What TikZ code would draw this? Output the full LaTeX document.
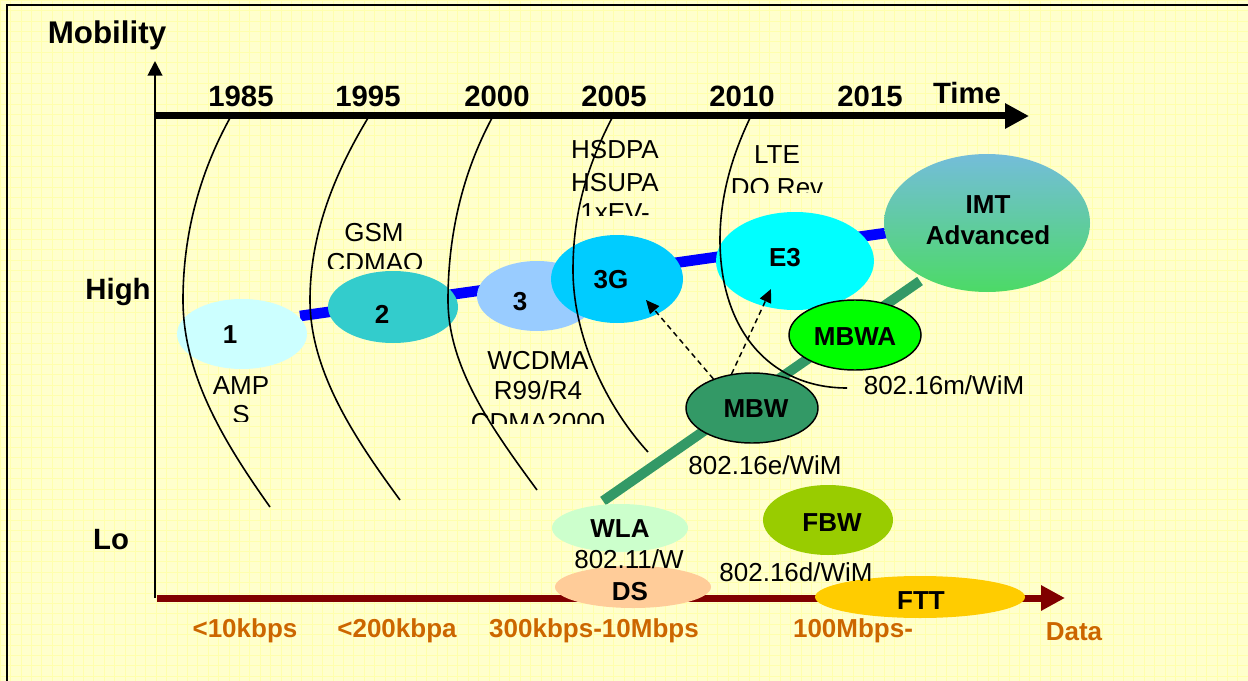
\documentclass[tikz,border=0pt]{standalone}
\usepackage{fontspec}
\setmainfont{Liberation Sans}
\usetikzlibrary{shapes.geometric,arrows.meta}
\definecolor{bgc}{HTML}{FFFFCC}
\definecolor{gridc}{HTML}{FFFFAD}
\definecolor{cA}{HTML}{CCFFFF}
\definecolor{cB}{HTML}{33CCCC}
\definecolor{cC}{HTML}{99CCFF}
\definecolor{cD}{HTML}{00CCFF}
\definecolor{cE}{HTML}{00FFFF}
\definecolor{imttop}{HTML}{74BDDA}
\definecolor{imtbot}{HTML}{4CDA66}
\definecolor{cMBWA}{HTML}{00FF00}
\definecolor{cMBW}{HTML}{339966}
\definecolor{cWLA}{HTML}{CCFFCC}
\definecolor{cFBW}{HTML}{99CC00}
\definecolor{cDS}{HTML}{FFCC99}
\definecolor{cFTT}{HTML}{FFCC00}
\definecolor{rateorange}{HTML}{CC6600}
\definecolor{darkred}{HTML}{800000}
\definecolor{bluebar}{HTML}{0000FF}
\begin{document}
\begin{tikzpicture}[x=0.75pt,y=-0.75pt,
  ell/.style n args={3}{ellipse, fill=#1, minimum width={#2*1.5pt}, minimum height={#3*1.5pt}, inner sep=0pt},
  olabel/.style={font=\fontsize{19.5}{23}\selectfont\bfseries, anchor=base, inner sep=0pt},
  tech/.style={font=\fontsize{19.5}{23}\selectfont, anchor=base, inner sep=0pt},
  hdr/.style={font=\fontsize{22}{26}\selectfont\bfseries, anchor=base, inner sep=0pt},
  rate/.style={font=\fontsize{19.5}{23}\selectfont\bfseries, text=rateorange, anchor=base, inner sep=0pt},
  era/.style={line width=1.2pt, black},
  dasharrow/.style={line width=1.1pt, dashed, dash pattern=on 4pt off 3pt, -{Triangle[length=10pt,width=9pt]}},
  outl/.style={draw=black, line width=1.1pt}]
\useasboundingbox (0,0) rectangle (1248,681);
% background
\fill[bgc] (0,0) rectangle (1248,681);
\foreach \i in {0,...,120} {\draw[gridc, line width=0.4pt] (\i*10.4,0) -- (\i*10.4,681);}
\foreach \j in {0,...,66} {\draw[gridc, line width=0.4pt] (0,\j*10.4) -- (1248,\j*10.4);}
\draw[line width=1.5pt] (7,681) -- (7,5) -- (1248,5);

% axes coordinates
\coordinate (vb) at (155,598);
\coordinate (vt) at (155,61);
\coordinate (ts) at (155,116);
\coordinate (te) at (1029,116);
\coordinate (ds0) at (157,598);
\coordinate (de) at (1065,598);

% data axis
\draw[darkred, line width=5.25pt, -{Triangle[length=18pt,width=18pt]}] (ds0) -- (de);

% bars
\coordinate (bS) at (300,316);
\coordinate (bE) at (886,233);
\draw[bluebar, line width=8pt] (bS) -- (bE);
\coordinate (gS) at (603,501);
\coordinate (gE) at (920,281);
\draw[cMBW, line width=7.5pt] (gS) -- (gE);

% ellipses
\node[ell={cA}{65}{35}] (n1) at (242,334) {};
\node[ell={cB}{65}{36}] (n2) at (393,307) {};
\node[ell={cC}{60}{35}] (n3) at (537,296) {};
\node[ell={cD}{66}{44}] (n3g) at (617,279) {};
\node[ell={cE}{79}{49}] (ne3) at (795,261) {};
\node[ellipse, minimum width=154.5pt, minimum height=103.5pt, inner sep=0pt, top color=imttop, bottom color=imtbot] (imt) at (987,223) {};
\node[ell={cMBWA}{66}{35}, outl] (mbwa) at (855,335) {};
\node[ell={cMBW}{66}{35}, outl] (mbw) at (752,408) {};
\node[ell={cWLA}{68}{24}] (wla) at (620,528) {};
\node[ell={cFBW}{65}{35}] (fbw) at (828,520) {};
\node[ell={cDS}{78}{21}] (ds) at (633,587) {};
\node[ell={cFTT}{105}{21}] (ftt) at (920,597) {};

% ellipse labels
\node[olabel] (l1) at (230,343) {1};
\node[olabel] (l2) at (382,323) {2};
\node[olabel] (l3) at (520,310) {3};
\node[olabel] (l3g) at (611,288) {3G};
\node[olabel] (le3) at (785,266) {E3};
\node[olabel] (limt) at (988,213) {IMT};
\node[olabel] (limt2) at (988,244) {Advanced};
\node[olabel] (lmbwa) at (855,345) {MBWA};
\node[olabel] (lmbw) at (756,417) {MBW};
\node[olabel] (lwla) at (620,537) {WLA};
\node[olabel] (lfbw) at (832,531) {FBW};
\node[olabel] (lds) at (630,600) {DS};
\node[olabel] (lftt) at (921,609) {FTT};

% technology texts (clipped)
\begin{scope}
\clip (300,200) rectangle (450,268);
\node[tech] (tgsm) at (374,241) {GSM};
\node[tech] (tcdma) at (375,271) {CDMAO};
\end{scope}
\begin{scope}
\clip (540,120) rectangle (700,215);
\node[tech] (thsd) at (615,159) {HSDPA};
\node[tech] (thsu) at (615,191) {HSUPA};
\node[tech] (tev) at (615,221) {1xEV-};
\end{scope}
\begin{scope}
\clip (720,120) rectangle (840,192);
\node[tech] (tlte) at (777,164) {LTE};
\node[tech] (tdo) at (777,196) {DO Rev};
\end{scope}
\begin{scope}
\clip (190,360) rectangle (300,421);
\node[tech] (tamp) at (241,394) {AMP};
\node[tech] (ts2) at (241,423) {S};
\end{scope}
\begin{scope}
\clip (460,340) rectangle (620,423);
\node[tech] (twc) at (538,369) {WCDMA};
\node[tech] (tr99) at (538,399) {R99/R4};
\node[tech] (tc2k) at (538,431) {CDMA2000};
\end{scope}
\node[tech] (t16m) at (944,394) {802.16m/WiM};
\node[tech] (t16e) at (765,474) {802.16e/WiM};
\node[tech] (t11) at (629,568) {802.11/W};
\node[tech] (t16d) at (796,581) {802.16d/WiM};

% era arcs
\draw[era] (230,118) .. controls (199,174) and (183,236) .. (183,300) .. controls (183,376) and (226,445) .. (270,507);
\draw[era] (368,118) .. controls (333,176) and (310,236) .. (310,300) .. controls (310,372) and (356,440) .. (400,500);
\draw[era] (492,118) .. controls (462,174) and (448,236) .. (448,300) .. controls (448,368) and (493,430) .. (537,490);
\draw[era] (612,118) .. controls (586,168) and (573,215) .. (573,270) .. controls (573,335) and (605,405) .. (648,452);
\draw[era] (750,118) .. controls (730,160) and (720,200) .. (720,240) .. controls (720,330) and (770,388) .. (847,388);

% dashed arrows
\coordinate (t3g) at (646,300);
\coordinate (te3) at (771,289);
\draw[dasharrow] (mbw.143) -- (t3g);
\draw[dasharrow] (mbw.121) -- (te3);

% axes
\draw[line width=5.25pt, -{Triangle[length=18pt,width=18pt]}] (ts) -- (te);
\draw[line width=1.5pt, -{Triangle[length=11pt,width=11pt]}] (vb) -- (vt);

% headers
\node[hdr, font=\fontsize{23.5}{27}\selectfont\bfseries] (hmob) at (107,44) {Mobility};
\node[hdr] (y85) at (241,107) {1985};
\node[hdr] (y95) at (368,107) {1995};
\node[hdr] (y00) at (497,107) {2000};
\node[hdr] (y05) at (614,107) {2005};
\node[hdr] (y10) at (742,107) {2010};
\node[hdr] (y15) at (870,107) {2015};
\node[hdr] (htime) at (967,104) {Time};
\node[hdr] (hhigh) at (118,299) {High};
\node[hdr] (hlo) at (111,549) {Lo};

% rates
\node[rate] (r1) at (245,637) {<10kbps};
\node[rate] (r2) at (397,637) {<200kbpa};
\node[rate] (r3) at (594,637) {300kbps-10Mbps};
\node[rate] (r4) at (853,637) {100Mbps-};
\node[rate] (r5) at (1074,640) {Data};
\end{tikzpicture}
\end{document}
